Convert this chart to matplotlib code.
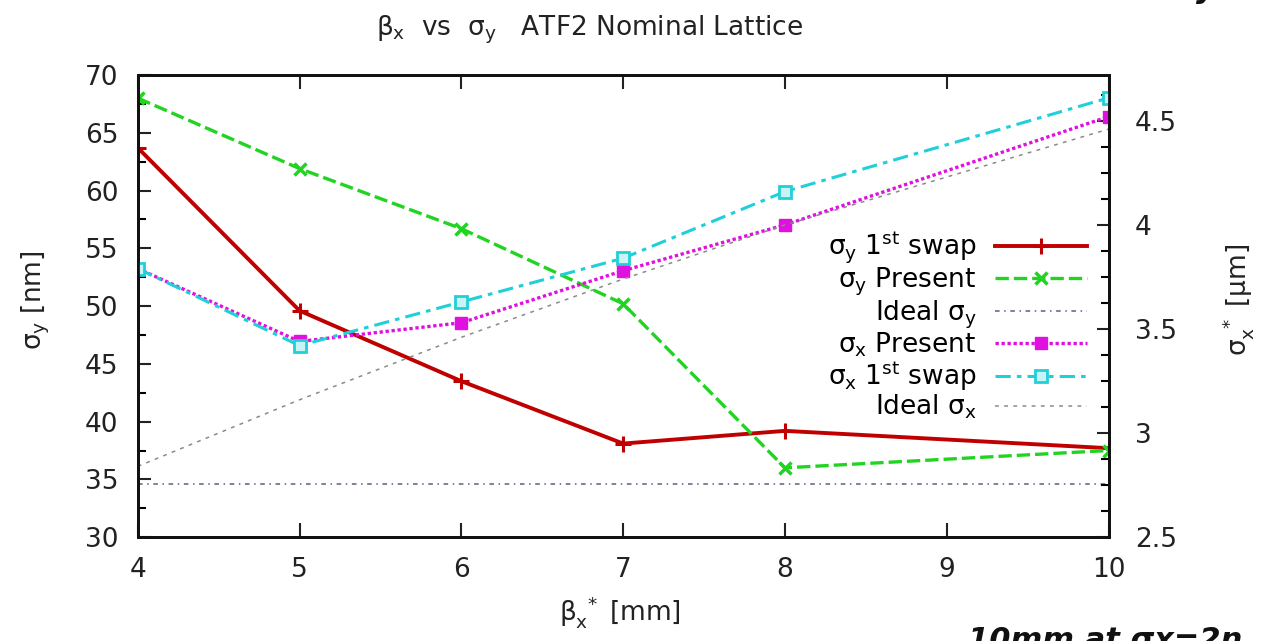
import matplotlib
matplotlib.use("Agg")
import matplotlib.pyplot as plt
from matplotlib.ticker import MultipleLocator, FormatStrFormatter

plt.rcParams["font.family"] = ["DejaVu Sans"]
plt.rcParams["mathtext.fontset"] = "custom"
plt.rcParams["mathtext.rm"] = "DejaVu Sans"
plt.rcParams["mathtext.it"] = "DejaVu Sans"
plt.rcParams["mathtext.bf"] = "DejaVu Sans:bold"

# beta_x* [mm]
beta_x = [4, 5, 6, 7, 8, 10]

# sigma_y [nm] (left axis)
sigy_swap = [63.7, 49.6, 43.5, 38.1, 39.2, 37.7]
sigy_present = [68.0, 61.9, 56.7, 50.2, 36.0, 37.5]
sigy_ideal = [34.6, 34.6, 34.6, 34.6, 34.6, 34.6]

# sigma_x* [um] (right axis)
sigx_present = [3.79, 3.44, 3.53, 3.78, 4.00, 4.52]
sigx_swap = [3.79, 3.42, 3.63, 3.84, 4.16, 4.61]
sigx_ideal = [2.84, 3.16, 3.46, 3.74, 4.00, 4.46]

fs = 19
txt = "#222222"

fig = plt.figure(figsize=(12.64, 6.41), dpi=100)
ax = fig.add_axes([0.109, 0.162, 0.768, 0.721])
ax2 = ax.twinx()

l1, = ax.plot(beta_x, sigy_swap, color="#c00000", lw=2.8, marker="+",
              ms=11, mew=2.2, label=r"$\sigma_y$ 1$^{st}$ swap")
l2, = ax.plot(beta_x, sigy_present, color="#22d422", lw=2.4, dashes=(4, 1.5),
              marker="x", ms=8, mew=2.5, label=r"$\sigma_y$ Present")
l3, = ax.plot(beta_x, sigy_ideal, color="#5a5f80", lw=1.1, dashes=(3, 3, 1, 3),
              label=r"Ideal $\sigma_y$")

l4, = ax2.plot(beta_x, sigx_present, color="#e010e0", lw=2.4, dashes=(1, 0.8),
               marker="s", ms=8, label=r"$\sigma_x$ Present")
l5, = ax2.plot(beta_x, sigx_swap, color="#20d0d8", lw=2.2, dashes=(5, 2, 1.5, 2),
               marker="s", ms=9, mfc="#c8f4f6", mew=2, label=r"$\sigma_x$ 1$^{st}$ swap")
l6, = ax2.plot(beta_x, sigx_ideal, color="#8a8a8a", lw=1.1, dashes=(2.5, 3.5),
               label=r"Ideal $\sigma_x$")

ax.set_xlim(4, 10)
ax.set_ylim(30, 70)
ax2.set_ylim(2.5, 4.72)

ax.xaxis.set_major_locator(MultipleLocator(1))
ax.yaxis.set_major_locator(MultipleLocator(5))
ax.yaxis.set_minor_locator(MultipleLocator(2.5))
ax2.yaxis.set_major_locator(MultipleLocator(0.5))
ax2.yaxis.set_minor_locator(MultipleLocator(0.125))
ax2.yaxis.set_major_formatter(FormatStrFormatter("%g"))

ax.tick_params(axis="x", which="both", direction="in", top=True, length=10,
               width=1.5, labelsize=fs, pad=14, colors=txt)
ax.tick_params(axis="y", which="major", direction="in", length=9, width=1.5,
               labelsize=fs, pad=14, colors=txt)
ax.tick_params(axis="y", which="minor", direction="in", length=6, width=1.5)
ax2.tick_params(axis="y", which="major", direction="in", length=9, width=1.5,
                labelsize=fs, pad=19, colors=txt)
ax2.tick_params(axis="y", which="minor", direction="in", length=6, width=1.5)

for a in (ax, ax2):
    for s in a.spines.values():
        s.set_linewidth(2)
        s.set_color("#111111")

fig.text(590 / 1264, 1 - 30 / 641, r"$\beta_x$  vs  $\sigma_y$   ATF2 Nominal Lattice",
         ha="center", va="center", fontsize=fs, color=txt)
fig.text(620 / 1264, 1 - 612 / 641, r"$\beta_x^{\ *}$ [mm]",
         ha="center", va="center", fontsize=fs, color=txt)
fig.text(36 / 1264, 1 - 300 / 641, r"$\sigma_y$ [nm]", rotation=90,
         ha="center", va="center", fontsize=fs, color=txt)
fig.text(1238 / 1264, 1 - 300 / 641, r"$\sigma_x^{\ *}$ [$\mu$m]", rotation=90,
         ha="center", va="center", fontsize=fs, color=txt)

fig.text(968 / 1264, 1 - 626 / 641, "10mm at σx=2n", ha="left", va="top",
         fontsize=22, fontweight="bold", fontstyle="italic", color="#111111")
fig.text(1196 / 1264, 1 + 2 / 641, "y", ha="left", va="baseline",
         fontsize=22, fontweight="bold", fontstyle="italic", color="#111111")

ax.legend(handles=[l1, l2, l3, l4, l5, l6], loc="upper right",
          bbox_to_anchor=(0.978, 0.665), frameon=False, markerfirst=False,
          fontsize=fs, handlelength=3.5, handletextpad=0.7,
          labelspacing=0.0, borderpad=0, borderaxespad=0)

fig.savefig("out.png", dpi=100)
plt.close()
